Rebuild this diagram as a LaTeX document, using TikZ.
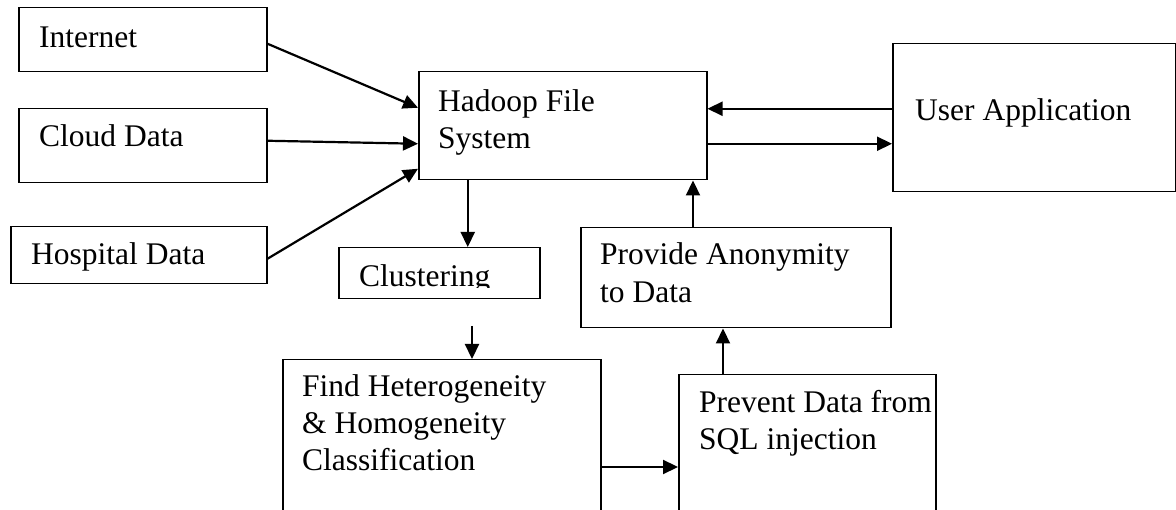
\documentclass[tikz,border=0pt]{standalone}
\usepackage{fontspec}
\setmainfont{Liberation Serif}
\usetikzlibrary{arrows.meta,calc}
\tikzset{
  boxnode/.style={draw=black, line width=1.5pt, rectangle, inner sep=0pt, anchor=north west},
  lbl/.style={anchor=base west, inner sep=0pt, font=\fontsize{31.5}{37}\selectfont},
  arr/.style={line width=2.2pt, -{Triangle[length=15pt,width=14pt]}}
}
\begin{document}
\begin{tikzpicture}[x=1pt,y=-1pt]
\clip (0,0) rectangle (1176,510);
\fill[white] (0,0) rectangle (1176,510);
% boxes
\node[boxnode, minimum width=248pt, minimum height=64pt] (internet) at (18,7) {};
\node[boxnode, minimum width=248pt, minimum height=74pt] (cloud) at (18,108) {};
\node[boxnode, minimum width=256pt, minimum height=57pt] (hospital) at (10,226) {};
\node[boxnode, minimum width=288pt, minimum height=108pt] (hadoop) at (418,71) {};
\node[boxnode, minimum width=283pt, minimum height=148pt] (user) at (892,43) {};
\node[boxnode, minimum width=201pt, minimum height=51pt] (clustering) at (338,247) {};
\node[boxnode, minimum width=310pt, minimum height=100pt] (provide) at (580,227) {};
\node[boxnode, minimum width=318pt, minimum height=180pt] (find) at (282,359) {};
\node[boxnode, minimum width=257pt, minimum height=170pt] (prevent) at (678,374) {};
% labels
\node[lbl] (tInternet) at (39,48) {Internet};
\node[lbl] (tCloud) at (39,147) {Cloud Data};
\node[lbl] (tHospital) at (31,265) {Hospital Data};
\node[lbl] (tHadoopA) at (438,112) {Hadoop File};
\node[lbl] (tHadoopB) at (438,149) {System};
\node[lbl] (tUser) at (915,121) {User Application};
\begin{scope}
\clip (338,247) rectangle (539,288);
\node[lbl] (tClustering) at (359,287) {Clustering};
\end{scope}
\node[lbl] (tProvideA) at (600,265) {Provide Anonymity};
\node[lbl] (tProvideB) at (600,303) {to Data};
\node[lbl] (tFindA) at (302,397) {Find Heterogeneity};
\node[lbl] (tFindB) at (302,434) {\& Homogeneity};
\node[lbl] (tFindC) at (302,471) {Classification};
\node[lbl] (tPreventA) at (699,413) {Prevent Data from};
\node[lbl] (tPreventB) at (699,450) {SQL injection};
% connectors
\draw[arr] ([yshift=-4pt]internet.east) -- ([yshift=18pt]hadoop.west);
\draw[arr] ([yshift=5pt]cloud.east) -- ([yshift=-18pt]hadoop.west);
\draw[arr] ([yshift=-3.5pt]hospital.east) -- ([yshift=-43pt]hadoop.west);
\draw[arr] ([yshift=9pt]user.west) -- ([yshift=17pt]hadoop.east);
\draw[arr] ([yshift=-18pt]hadoop.east) -- ([yshift=-26pt]user.west);
\draw[arr] ([xshift=-95pt]hadoop.south) -- ([xshift=28.5pt]clustering.north);
\coordinate (cf) at (472,326);
\draw[arr] (cf) -- (cf |- find.north);
\draw[arr] (find.east |- 0,467) -- (prevent.west |- 0,467);
\draw[arr] (prevent.north -| 723,0) -- (provide.south -| 723,0);
\draw[arr] (provide.north -| 693,0) -- (hadoop.south -| 693,0);
\end{tikzpicture}
\end{document}
